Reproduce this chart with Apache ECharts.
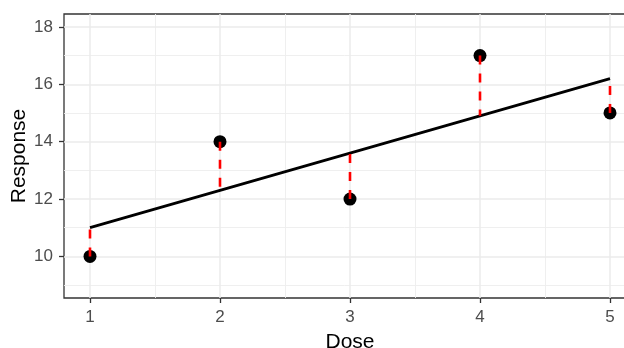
<!DOCTYPE html>
<html>
<head>
<meta charset="utf-8">
<script src="https://cdn.jsdelivr.net/npm/echarts@6/dist/echarts.min.js"></script>
<style>
  html, body { margin: 0; padding: 0; background: #fff; }
  #chart { width: 624px; height: 348px; }
</style>
</head>
<body>
<div id="chart"></div>
<script>
// Dose-response observations and the fitted regression line
const dose = [1, 2, 3, 4, 5];
const response = [10, 14, 12, 17, 15];
const fitted = [11.0, 12.3, 13.6, 14.9, 16.2];

// Axis ticks and grid positions
const xTicks = [1, 2, 3, 4, 5];
const xMinor = [1.5, 2.5, 3.5, 4.5];
const yTicks = [10, 12, 14, 16, 18];
const yMinor = [9, 11, 13, 15, 17];

const majorGrid = { color: '#ebebeb', width: 1.5, type: 'solid' };
const minorGrid = { color: '#ededed', width: 0.9, type: 'solid' };

const gridLines = []
  .concat(xMinor.map(v => ({ xAxis: v, lineStyle: minorGrid })))
  .concat(yMinor.map(v => ({ yAxis: v, lineStyle: minorGrid })))
  .concat(xTicks.map(v => ({ xAxis: v, lineStyle: majorGrid })))
  .concat(yTicks.map(v => ({ yAxis: v, lineStyle: majorGrid })));

const points = dose.map((d, i) => [d, response[i]]);
const fitLine = dose.map((d, i) => [d, fitted[i]]);
const residuals = dose.map((d, i) => [d, response[i], fitted[i]]);

const chart = echarts.init(document.getElementById('chart'), null, { renderer: 'canvas' });
chart.setOption({
  animation: false,
  backgroundColor: '#ffffff',
  grid: {
    left: 64, top: 14, width: 572, height: 284,
    outerBoundsMode: 'none', containLabel: false,
    show: true, borderColor: '#333333', borderWidth: 1.3, backgroundColor: 'transparent'
  },
  xAxis: {
    type: 'value', min: 0.8, max: 5.2,
    name: 'Dose', nameLocation: 'middle', nameGap: 34, nameMoveOverlap: false,
    nameTextStyle: { color: '#000', fontSize: 21, fontFamily: 'Liberation Sans' },
    axisLine: { show: false },
    splitLine: { show: false },
    axisTick: { show: true, customValues: xTicks, length: 5, lineStyle: { color: '#333333', width: 1.3 } },
    axisLabel: { customValues: xTicks, margin: 11, color: '#4d4d4d', fontSize: 17, fontFamily: 'Liberation Sans' }
  },
  yAxis: {
    type: 'value', min: 8.55, max: 18.45,
    name: 'Response', nameLocation: 'middle', nameRotate: 90, nameGap: 34, nameMoveOverlap: false,
    nameTextStyle: { color: '#000', fontSize: 21, fontFamily: 'Liberation Sans' },
    axisLine: { show: false },
    splitLine: { show: false },
    axisTick: { show: true, customValues: yTicks, length: 5, lineStyle: { color: '#333333', width: 1.3 } },
    axisLabel: { customValues: yTicks, margin: 11, color: '#4d4d4d', fontSize: 17, fontFamily: 'Liberation Sans' }
  },
  series: [
    {
      type: 'line', data: [], z: 0, silent: true,
      markLine: { z: 0, silent: true, symbol: ['none', 'none'], label: { show: false }, data: gridLines, animation: false }
    },
    {
      type: 'line', data: fitLine, z: 2, symbol: 'none', silent: true,
      lineStyle: { color: '#000000', width: 2.8 }
    },
    {
      type: 'scatter', data: points, z: 3, symbol: 'circle', symbolSize: 13,
      itemStyle: { color: '#000000', opacity: 1, borderWidth: 0 }
    },
    {
      // vertical residual segments from each observation to the fitted value
      type: 'custom', data: residuals, z: 4, silent: true,
      renderItem: function (params, api) {
        const p1 = api.coord([api.value(0), api.value(1)]);
        const p2 = api.coord([api.value(0), api.value(2)]);
        return {
          type: 'line',
          shape: { x1: p1[0], y1: p1[1], x2: p2[0], y2: p2[1] },
          style: { stroke: '#ff0000', lineWidth: 2.6, lineDash: [9, 9], fill: null }
        };
      }
    }
  ]
});
</script>
</body>
</html>
